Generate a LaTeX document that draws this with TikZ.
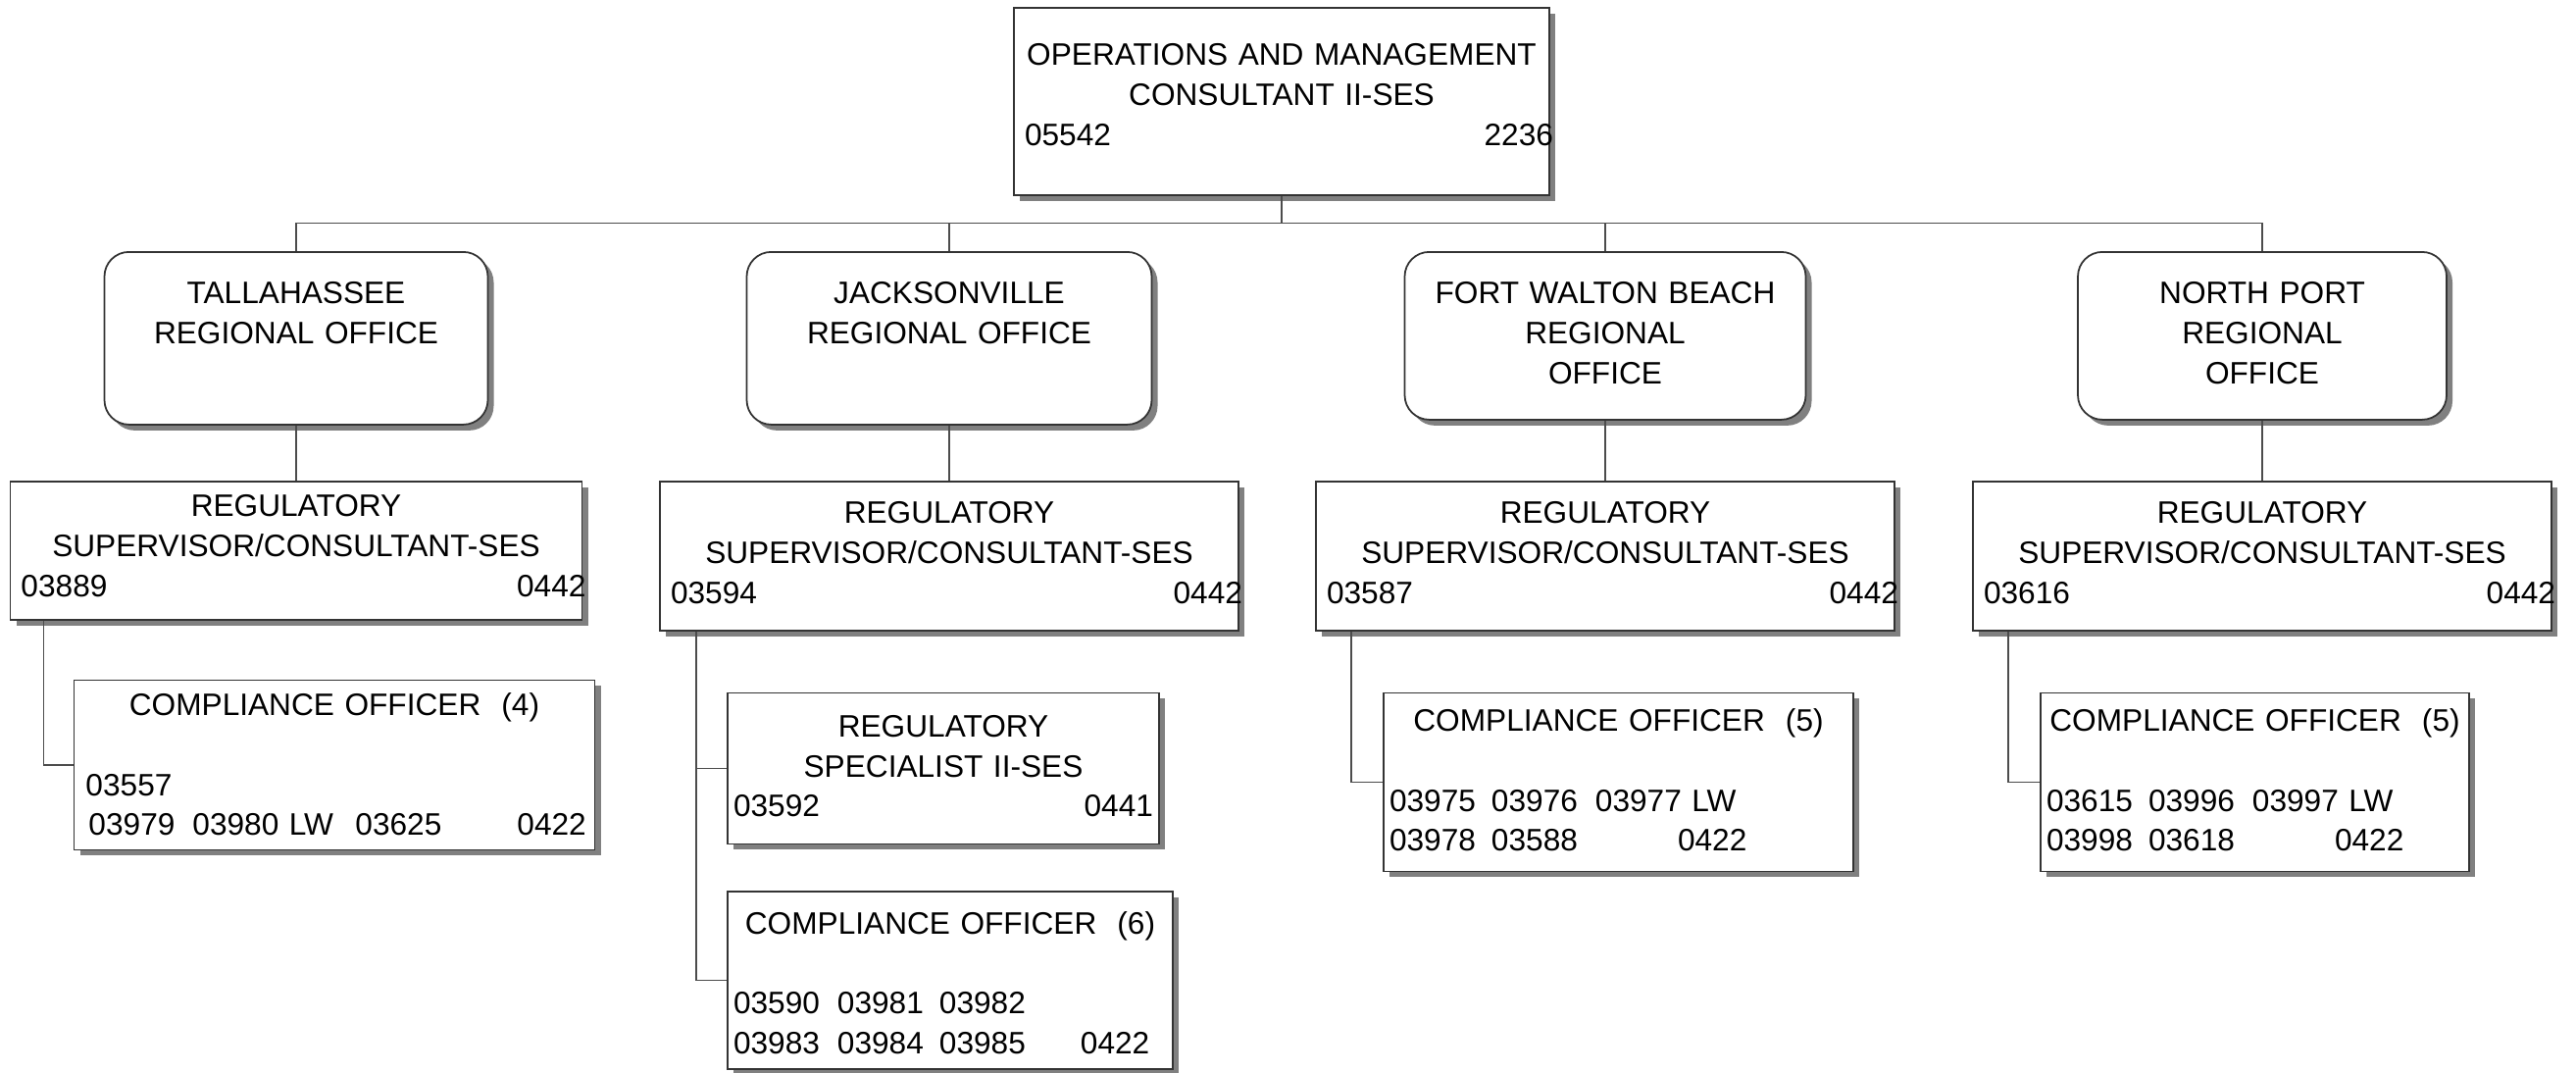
\documentclass[tikz,border=0pt]{standalone}
\usepackage{fontspec}
\setmainfont{Liberation Sans}
\usetikzlibrary{positioning,shadows,calc}

\newcommand{\orgfont}{\fontsize{9}{11.6}\selectfont}
\newcommand{\posrow}[2]{\hspace*{0.05cm}#1\hfill#2\kern-0.1cm}
\newcommand{\idrow}[1]{\makebox[\linewidth][l]{#1}}
\newcommand{\idcell}[2]{\makebox[#1][l]{#2}}

\begin{document}
\begin{tikzpicture}[
    box/.style={rectangle, draw=black!80, fill=white, line width=0.5pt, align=center, inner xsep=0.06cm, inner ysep=0pt, font=\orgfont, drop shadow={shadow xshift=0.06cm, shadow yshift=-0.06cm, fill=black!50, opacity=1}},
    head/.style={box, text width=5.34cm, text height=0.59cm, text depth=1.32cm},
    region/.style={box, rounded corners=0.25cm, text height=0.53cm, text depth=1.23cm},
    sup/.style={box, text width=5.78cm, text height=0.43cm, text depth=1.09cm},
    staff/.style={box, anchor=north west, text height=0.39cm, text depth=1.43cm},
    link/.style={draw=black!70, line width=0.4pt}
]
    \useasboundingbox[fill=white] (0,0) rectangle (26.27,-10.93);

    % Head of the division
    \node[head, anchor=north] (head) at (13.07,-0.07) {OPERATIONS AND MANAGEMENT\\CONSULTANT II-SES\\\posrow{05542}{2236}};

    % Regional offices
    \node[region, anchor=north, text width=3.79cm] (tal) at (3.02,-2.56) {TALLAHASSEE\\REGIONAL OFFICE};
    \node[region, anchor=north, text width=4.01cm] (jax) at (9.68,-2.56) {JACKSONVILLE\\REGIONAL OFFICE};
    \node[region, anchor=north, text width=3.97cm, text depth=1.18cm] (fwb) at (16.37,-2.56) {FORT WALTON BEACH\\REGIONAL\\OFFICE};
    \node[region, anchor=north, text width=3.64cm, text depth=1.18cm] (np) at (23.07,-2.56) {NORTH PORT\\REGIONAL\\OFFICE};

    % Supervisors
    \node[sup, below=0.56cm of tal, text width=5.71cm, text height=0.36cm, text depth=1.05cm] (talsup) {REGULATORY\\SUPERVISOR/CONSULTANT-SES\\\posrow{03889}{0442}};
    \node[sup, below=0.56cm of jax] (jaxsup) {REGULATORY\\SUPERVISOR/CONSULTANT-SES\\\posrow{03594}{0442}};
    \node[sup, below=0.61cm of fwb] (fwbsup) {REGULATORY\\SUPERVISOR/CONSULTANT-SES\\\posrow{03587}{0442}};
    \node[sup, below=0.61cm of np] (npsup) {REGULATORY\\SUPERVISOR/CONSULTANT-SES\\\posrow{03616}{0442}};

    % Staff under each supervisor
    \node[staff, text width=5.19cm, text height=0.36cm, text depth=1.37cm] (talco) at ([xshift=0.65cm, yshift=-0.60cm]talsup.south west) {COMPLIANCE OFFICER~~(4)\\[0.41cm]\idrow{\hspace*{0.06cm}03557}\\\idrow{\hspace*{0.09cm}\idcell{1.06cm}{03979}\idcell{1.66cm}{03980 LW}\idcell{1.65cm}{03625}0422}};
    \node[staff, text width=4.28cm, text height=0.45cm, text depth=1.09cm] (jaxspec) at ([xshift=0.69cm, yshift=-0.62cm]jaxsup.south west) {REGULATORY\\SPECIALIST II-SES\\03592\hfill 0441};
    \node[staff, text width=4.42cm, text height=0.43cm, text depth=1.38cm] (jaxco) at ([yshift=-0.47cm]jaxspec.south west) {COMPLIANCE OFFICER~~(6)\\[0.41cm]\idrow{\idcell{1.06cm}{03590}\idcell{1.04cm}{03981}03982}\\\idrow{\idcell{1.06cm}{03983}\idcell{1.04cm}{03984}\idcell{1.44cm}{03985}0422}};
    \node[staff, text width=4.67cm] (fwbco) at ([xshift=0.69cm, yshift=-0.62cm]fwbsup.south west) {COMPLIANCE OFFICER~~(5)\\[0.41cm]\idrow{\idcell{1.04cm}{03975}\idcell{1.06cm}{03976}03977 LW}\\\idrow{\idcell{1.04cm}{03978}\idcell{1.90cm}{03588}0422}};
    \node[staff, text width=4.25cm] (npco) at ([xshift=0.69cm, yshift=-0.62cm]npsup.south west) {COMPLIANCE OFFICER~~(5)\\[0.41cm]\idrow{\idcell{1.04cm}{03615}\idcell{1.06cm}{03996}03997 LW}\\\idrow{\idcell{1.04cm}{03998}\idcell{1.90cm}{03618}0422}};

    % Connectors
    \coordinate (bus) at ($(head.south)+(0,-0.28)$);
    \draw[link] (head.south) -- (bus);
    \foreach \reg in {tal,jax,fwb,np} {
        \draw[link] (bus) -| (\reg.north);
        \draw[link] (\reg.south) -- (\reg sup.north);
    }
    \draw[link] ([xshift=0.35cm]talsup.south west) |- (talco.west);
    \draw[link] ([xshift=0.38cm]jaxsup.south west) |- (jaxspec.west);
    \draw[link] ([xshift=0.38cm]jaxsup.south west) |- (jaxco.west);
    \draw[link] ([xshift=0.37cm]fwbsup.south west) |- (fwbco.west);
    \draw[link] ([xshift=0.37cm]npsup.south west) |- (npco.west);
\end{tikzpicture}
\end{document}
